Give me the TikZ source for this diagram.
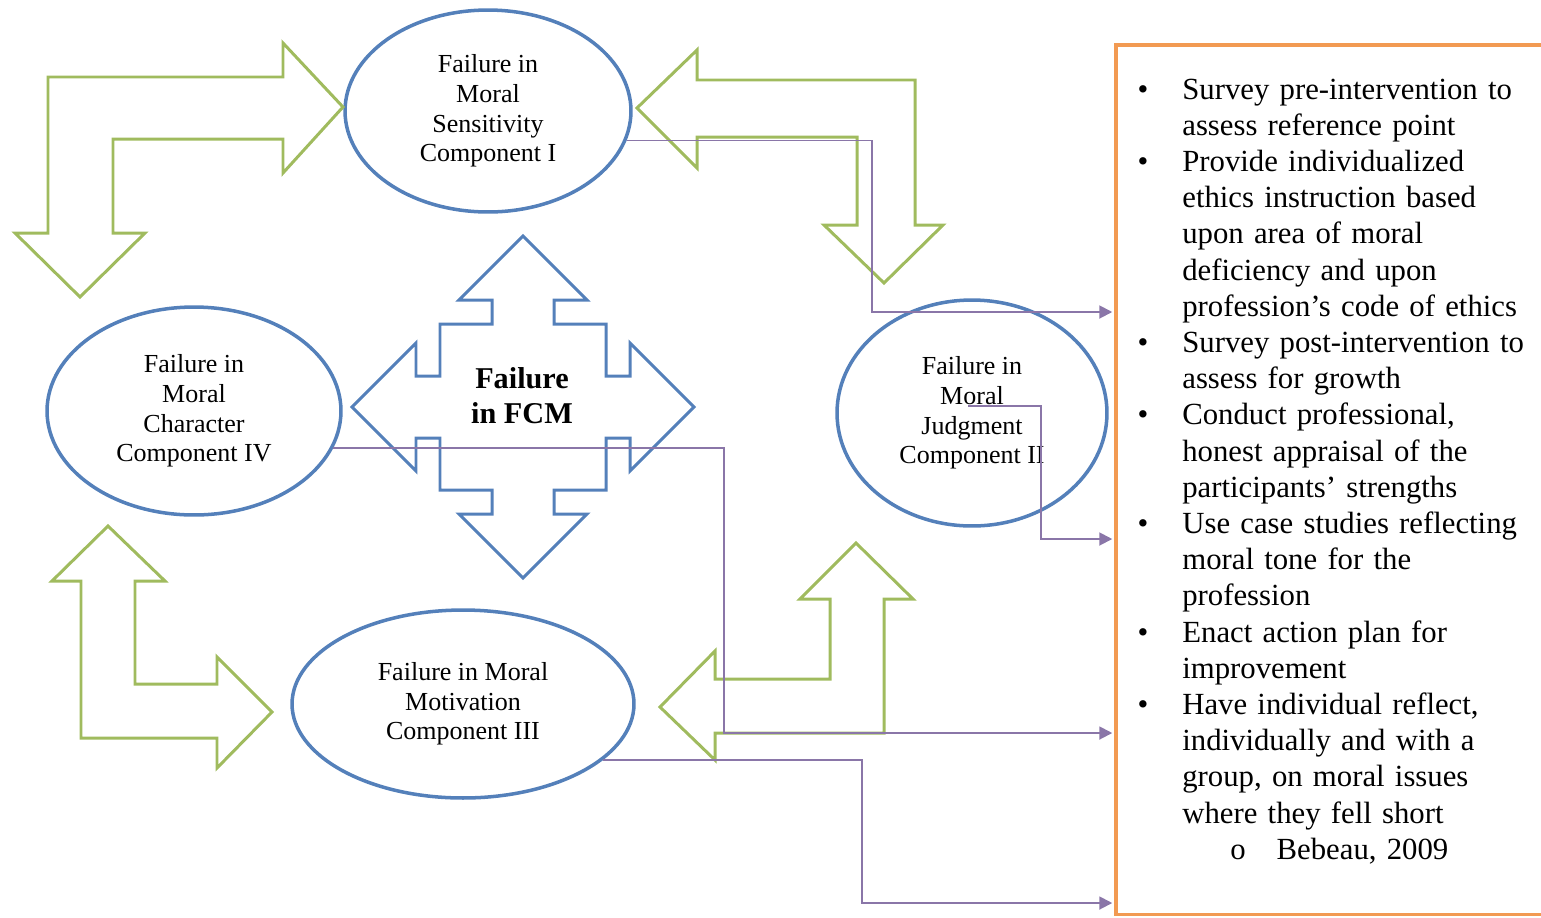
\documentclass[tikz,border=0pt]{standalone}
\usepackage{fontspec}
\setmainfont{Liberation Serif}
\usetikzlibrary{shapes.geometric,arrows.meta}

\definecolor{compblue}{RGB}{84,128,186}
\definecolor{arrowgreen}{RGB}{160,187,94}
\definecolor{linkpurple}{RGB}{138,118,168}
\definecolor{planorange}{RGB}{242,154,82}

\newenvironment{planitems}{\begin{list}{\textbullet}{\setlength{\leftmargin}{1.24cm}\setlength{\labelwidth}{0.4cm}\setlength{\labelsep}{0.68cm}\setlength{\itemsep}{0pt}\setlength{\parsep}{0pt}\setlength{\topsep}{0pt}\setlength{\partopsep}{0pt}}}{\end{list}}
\newenvironment{plansubitems}{\begin{list}{o}{\setlength{\leftmargin}{1.88cm}\setlength{\labelwidth}{0.3cm}\setlength{\labelsep}{0.62cm}\setlength{\itemsep}{0pt}\setlength{\parsep}{0pt}\setlength{\topsep}{0pt}\setlength{\partopsep}{0pt}}}{\end{list}}

\begin{document}
\begin{tikzpicture}[x=0.02cm, y=-0.02cm,
    comp/.style={ellipse, draw=compblue, line width=2pt, align=center, inner sep=0pt, font=\fontsize{14.8}{16.8}\selectfont},
    bent/.style={draw=arrowgreen, line width=1.7pt, line join=miter},
    quad/.style={draw=compblue, line width=1.7pt, line join=miter},
    link/.style={draw=linkpurple, line width=1.1pt, -{Triangle[length=0.26cm, width=0.26cm]}, shorten >=1pt}]

    \path[use as bounding box, clip] (0,0) rectangle (1541,917);

    % Nodes
    \node[comp, minimum width=5.72cm, minimum height=4.04cm] (eI) at (488,111) {Failure in\\Moral\\Sensitivity\\Component I};
    \node[comp, minimum width=5.4cm, minimum height=4.52cm] (eII) at (972,413) {Failure in\\Moral\\Judgment\\Component II};
    \node[comp, minimum width=6.84cm, minimum height=3.76cm] (eIII) at (463,704) {Failure in Moral\\Motivation\\Component III};
    \node[comp, minimum width=5.88cm, minimum height=4.16cm] (eIV) at (194,411) {Failure in\\Moral\\Character\\Component IV};

    \node[font=\bfseries\fontsize{17.2}{19.9}\selectfont, align=center] (fcm) at (522,396) {Failure\\in FCM};

    \node[draw=planorange, line width=2pt, anchor=north west, minimum width=8.92cm, minimum height=17.4cm] (plan) at (1114,43) {};
    \node[anchor=base west, text width=8.4cm, inner sep=0pt, font=\fontsize{17.5}{20.6}\selectfont] (steps) at (1120,63) {\raggedright
      \begin{planitems}
        \item Survey pre-intervention to\\assess reference point
        \item Provide individualized\\ethics instruction based\\upon area of moral\\deficiency and upon\\profession's code of ethics
        \item Survey post-intervention to\\assess for growth
        \item Conduct professional,\\honest appraisal of the\\participants' strengths
        \item Use case studies reflecting\\moral tone for the\\profession
        \item Enact action plan for\\improvement
        \item Have individual reflect,\\individually and with a\\group, on moral issues\\where they fell short
        \begin{plansubitems}
          \item Bebeau, 2009
        \end{plansubitems}
      \end{planitems}};

    % Bent arrows
    \draw[bent] (80,297) -- (15,233) -- (48,233) -- (48,77) -- (283,77) -- (283,43) -- (343,107) -- (283,173) -- (283,139) -- (113,139) -- (113,233) -- (145,233) -- cycle;
    \draw[bent] (637,108) -- (697,50) -- (697,80) -- (915,80) -- (915,225) -- (943,225) -- (884,283) -- (824,225) -- (857,225) -- (857,137) -- (697,137) -- (697,168) -- cycle;
    \draw[bent] (108,526) -- (165,581) -- (135,581) -- (135,684) -- (217,684) -- (217,657) -- (272,712) -- (217,768) -- (217,738) -- (81,738) -- (81,581) -- (52,581) -- cycle;
    \draw[bent] (856,543) -- (913,599) -- (884,599) -- (884,733) -- (715,733) -- (715,760) -- (660,707) -- (715,651) -- (715,679) -- (830,679) -- (830,599) -- (800,599) -- cycle;

    % Quad arrow
    \begin{scope}[shift={(523,407)}]
      \draw[quad] (-83,-83) -- (-31,-83) -- (-31,-107) -- (-64,-107) -- (0,-171) -- (64,-107) -- (31,-107) -- (31,-83) -- (83,-83)
        -- (83,-31) -- (107,-31) -- (107,-64) -- (171,0) -- (107,64) -- (107,31) -- (83,31) -- (83,83)
        -- (31,83) -- (31,107) -- (64,107) -- (0,171) -- (-64,107) -- (-31,107) -- (-31,83) -- (-83,83)
        -- (-83,31) -- (-107,31) -- (-107,64) -- (-171,0) -- (-107,-64) -- (-107,-31) -- (-83,-31) -- cycle;
    \end{scope}

    % Edges
    \coordinate (b1) at (872,312);
    \coordinate (jin) at (968,406);
    \coordinate (b2) at (1041,539);
    \coordinate (b3) at (724,733);
    \coordinate (b4) at (862,903);
    \draw[link] (eI.-12) -| (b1) -- (b1 -| plan.west);
    \draw[link] (jin) -| (b2) -- (b2 -| plan.west);
    \draw[link] (eIV.-15) -| (b3) -- (b3 -| plan.west);
    \draw[link] (eIII.-22) -| (b4) -- (b4 -| plan.west);

\end{tikzpicture}
\end{document}
